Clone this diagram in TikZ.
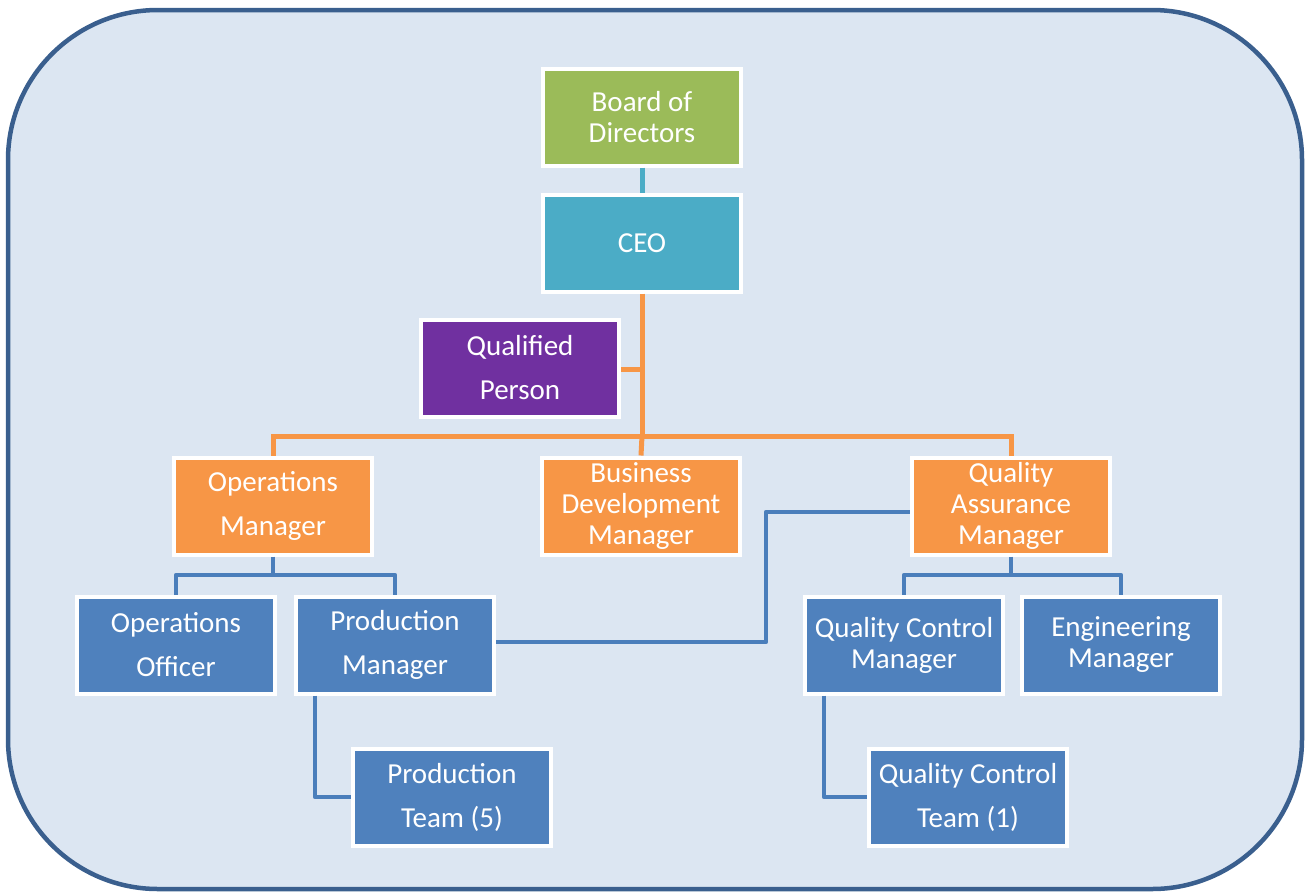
\documentclass[tikz,border=0pt]{standalone}
\usepackage{fontspec}
\setmainfont{Carlito}
\begin{document}
\definecolor{panel}{HTML}{DCE6F2}
\definecolor{panelline}{HTML}{3A5F8E}
\definecolor{boardgreen}{HTML}{9BBB59}
\definecolor{ceoteal}{HTML}{4BACC6}
\definecolor{qppurple}{HTML}{7030A0}
\definecolor{mgrorange}{HTML}{F79646}
\definecolor{staffblue}{HTML}{4F81BD}
\definecolor{linkblue}{HTML}{4A7EBB}
\begin{tikzpicture}[x=1pt,y=-1pt,
  box/.style={draw=white, line width=4pt, minimum width=198pt, minimum height=97pt,
    text=white, align=flush center, inner sep=0pt, text width=194pt},
  tight/.style={font=\fontsize{29}{31}\selectfont},
  loose/.style={font=\fontsize{29}{44}\selectfont},
  olink/.style={draw=mgrorange, line width=5pt},
  blink/.style={draw=linkblue, line width=4.5pt, line join=round}]
\useasboundingbox (0,0) rectangle (1306,892);
% panel behind the chart
\draw[fill=panel, draw=panelline, line width=4.5pt, rounded corners=150pt] (8,10) rectangle (1302,889);

% nodes
\node[box, tight, fill=boardgreen] (board) at (642,117) {Board of\\Directors};
\node[box, tight, fill=ceoteal] (ceo) at (642,243) {CEO};
\node[box, loose, fill=qppurple] (qp) at (520,368) {Qualified\\Person};
\node[box, loose, fill=mgrorange] (ops) at (273,506) {Operations\\Manager};
\node[box, tight, fill=mgrorange] (bd) at (641,506) {Business\\Development\\Manager};
\node[box, tight, fill=mgrorange] (qa) at (1011,506) {Quality\\Assurance\\Manager};
\node[box, loose, fill=staffblue] (oo) at (176,645) {Operations\\Officer};
\node[box, loose, fill=staffblue] (pm) at (395,645) {Production\\Manager};
\node[box, tight, fill=staffblue] (qcm) at (904,645) {Quality Control\\Manager};
\node[box, tight, fill=staffblue] (eng) at (1121,645) {Engineering\\Manager};
\node[box, loose, fill=staffblue] (pt) at (452,797) {Production\\Team (5)};
\node[box, loose, fill=staffblue] (qct) at (968,797) {Quality Control\\Team (1)};

% junction points of the connectors
\coordinate (ceobus) at (ceo.south |- 0,436);
\coordinate (qpjoin) at (ceo.south |- 0,369);
\coordinate (opsbus) at (ops.south |- 0,575);
\coordinate (qabus) at (qa.south |- 0,575);
\coordinate (pmturn) at (766,642);
\coordinate (qaturn) at (766,512);
\coordinate (ptturn) at (315,797);
\coordinate (qctturn) at (824,797);

% board to CEO
\draw[draw=ceoteal, line width=5pt] (board.south) -- (ceo.north);
% CEO to managers
\draw[olink] (ceo.south) -- (ceobus);
\draw[olink] (qp.east |- qpjoin) -- (qpjoin);
\draw[olink] (ops.north) -- (ops.north |- ceobus) -- (qa.north |- ceobus) -- (qa.north);
\draw[olink] (ceobus) -- (bd.north);
% operations branch
\draw[blink] (ops.south) -- (opsbus);
\draw[blink] (oo.north) -- (oo.north |- opsbus) -- (pm.north |- opsbus) -- (pm.north);
% quality branch
\draw[blink] (qa.south) -- (qabus);
\draw[blink] (qcm.north) -- (qcm.north |- qabus) -- (eng.north |- qabus) -- (eng.north);
% production manager reports to QA as well
\draw[blink] (pm.east |- pmturn) -- (pmturn) -- (qaturn) -- (qa.west |- qaturn);
% teams
\draw[blink] (pm.south -| ptturn) -- (ptturn) -- (pt.west);
\draw[blink] (qcm.south -| qctturn) -- (qctturn) -- (qct.west);
\end{tikzpicture}
\end{document}
